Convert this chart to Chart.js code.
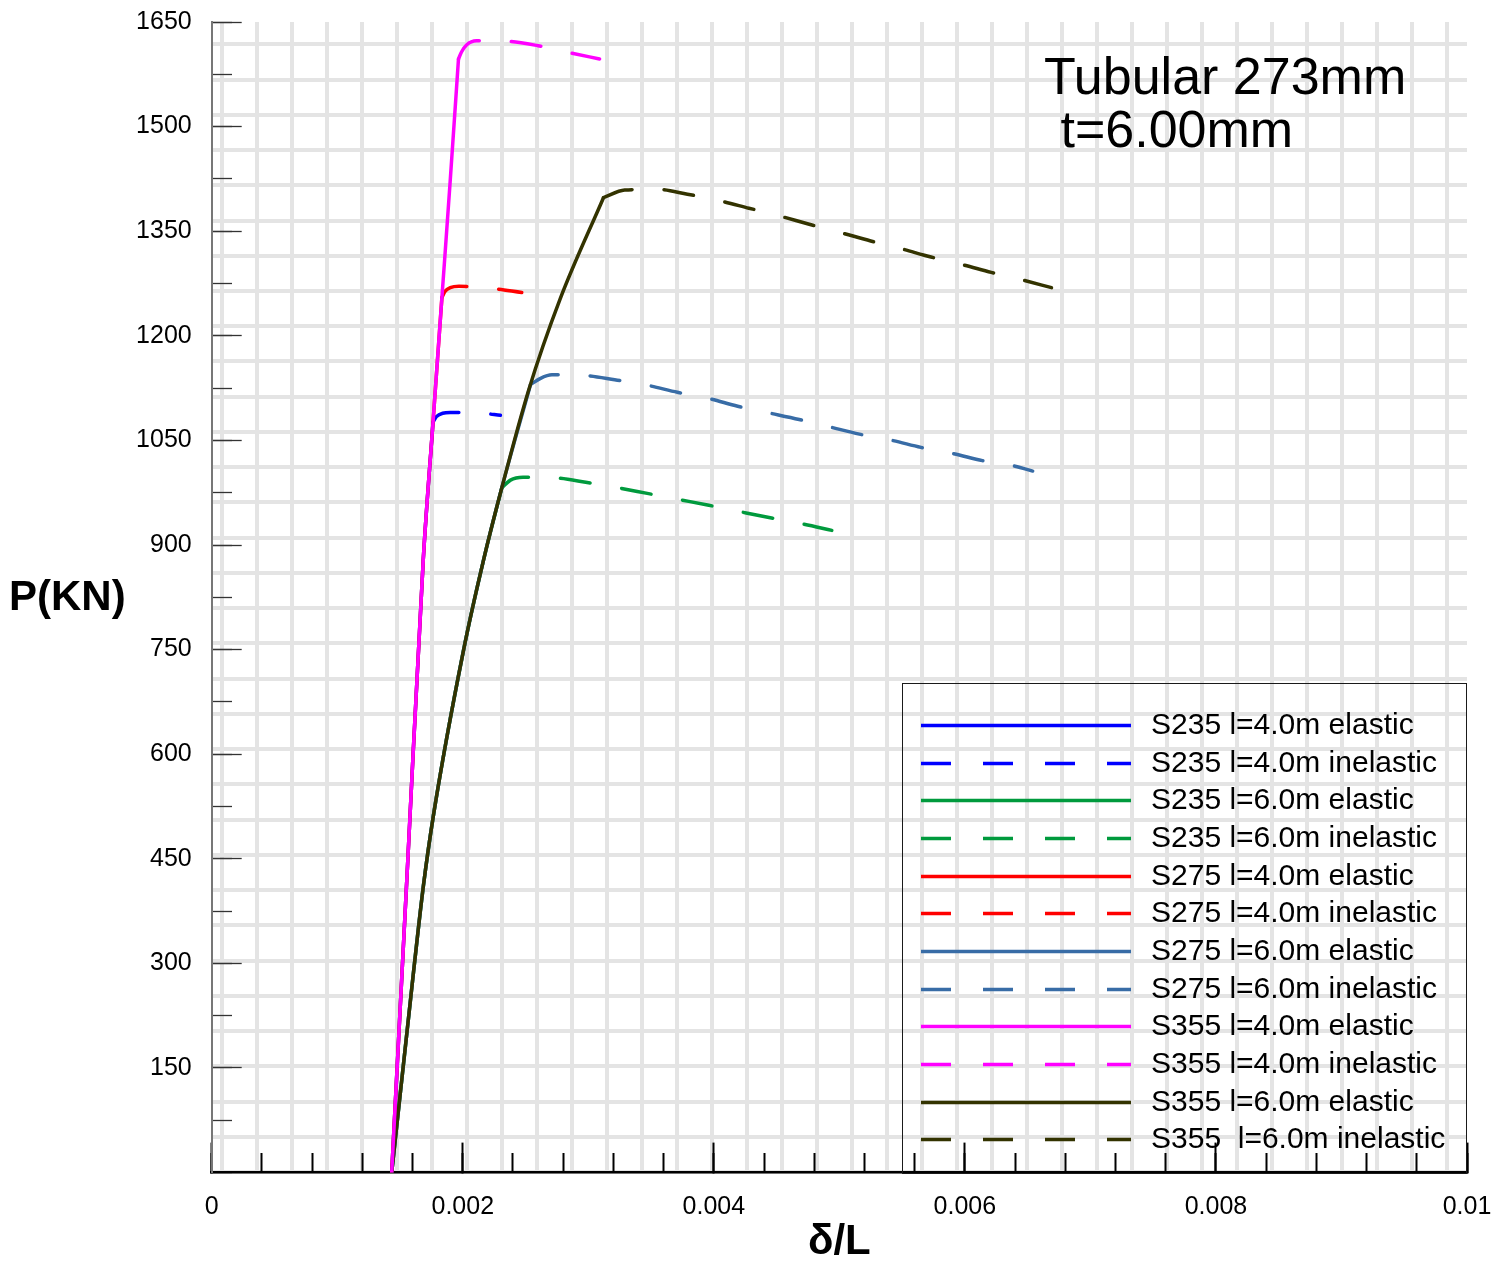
<!DOCTYPE html>
<html>
<head>
<meta charset="utf-8">
<title>Tubular 273mm t=6.00mm</title>
<script src="https://cdn.jsdelivr.net/npm/chart.js@4.4.1/dist/chart.umd.min.js"></script>
<style>
  html, body { margin: 0; padding: 0; background: #fff; }
  #wrap { width: 1510px; height: 1266px; }
</style>
</head>
<body>
<div id="wrap"><canvas id="chart" width="1510" height="1266"></canvas></div>
<script>
// P (kN) against δ/L, pairs of [strain, load]
const s235L4Elastic   = [[0.001434, 0], [0.00156, 440], [0.001685, 878], [0.001763, 1076]];
const s235L4Inelastic = [[0.001763, 1076], [0.00179, 1084], [0.00184, 1089], [0.0019, 1090], [0.00215, 1089], [0.0023, 1086]];
const s235L6Elastic   = [[0.001434, 0], [0.001608, 288], [0.001687, 412], [0.001767, 513], [0.002006, 749], [0.002165, 878], [0.002311, 982]];
const s235L6Inelastic = [[0.002311, 982], [0.00238, 993], [0.00248, 997], [0.00275, 996], [0.00298, 990], [0.00324, 982], [0.00347, 974], [0.00373, 965], [0.00396, 957], [0.00423, 947], [0.00445, 939], [0.00471, 930], [0.00494, 921]];
const s275L4Elastic   = [[0.001434, 0], [0.00156, 440], [0.001685, 878], [0.001763, 1076], [0.001834, 1255]];
const s275L4Inelastic = [[0.001834, 1255], [0.00186, 1264], [0.0019, 1269], [0.00197, 1271], [0.00223, 1268], [0.00247, 1262]];
const s275L6Elastic   = [[0.001434, 0], [0.001608, 288], [0.001687, 412], [0.001767, 513], [0.002006, 749], [0.002165, 878], [0.002311, 982], [0.00254, 1130]];
const s275L6Inelastic = [[0.00254, 1130], [0.00262, 1139], [0.00271, 1144], [0.00298, 1143], [0.00321, 1137], [0.00347, 1129], [0.00371, 1119], [0.00396, 1110], [0.00419, 1099], [0.00445, 1089], [0.00468, 1080], [0.00493, 1069], [0.00516, 1059], [0.00542, 1050], [0.00565, 1040], [0.00591, 1031], [0.00614, 1021], [0.0064, 1013], [0.00654, 1006]];
const s355L4Elastic   = [[0.001434, 0], [0.00156, 440], [0.001685, 878], [0.001763, 1076], [0.001834, 1255], [0.0019, 1422], [0.001966, 1597]];
const s355L4Inelastic = [[0.001966, 1597], [0.00199, 1607], [0.00203, 1617], [0.00211, 1623], [0.00238, 1622], [0.0026, 1616], [0.00285, 1606], [0.00309, 1597]];
const s355L6Elastic   = [[0.001434, 0], [0.001608, 288], [0.001687, 412], [0.001767, 513], [0.002006, 749], [0.002165, 878], [0.002311, 982], [0.002523, 1121], [0.002776, 1253], [0.003121, 1398]];
const s355L6Inelastic = [[0.003121, 1398], [0.00329, 1409], [0.00355, 1410], [0.00379, 1403], [0.00404, 1394], [0.00428, 1383], [0.00452, 1372], [0.00476, 1360], [0.00501, 1348], [0.00525, 1336], [0.00549, 1325], [0.00573, 1313], [0.00598, 1302], [0.00621, 1291], [0.00646, 1280], [0.00669, 1269]];

const seriesLabels = [
  'S235 l=4.0m elastic', 'S235 l=4.0m inelastic',
  'S235 l=6.0m elastic', 'S235 l=6.0m inelastic',
  'S275 l=4.0m elastic', 'S275 l=4.0m inelastic',
  'S275 l=6.0m elastic', 'S275 l=6.0m inelastic',
  'S355 l=4.0m elastic', 'S355 l=4.0m inelastic',
  'S355 l=6.0m elastic', 'S355  l=6.0m inelastic'
];
const seriesData = [
  s235L4Elastic, s235L4Inelastic, s235L6Elastic, s235L6Inelastic,
  s275L4Elastic, s275L4Inelastic, s275L6Elastic, s275L6Inelastic,
  s355L4Elastic, s355L4Inelastic, s355L6Elastic, s355L6Inelastic
];
const seriesColors = ['#0000ff', '#0000ff', '#009a3d', '#009a3d', '#ff0000', '#ff0000',
                      '#386ca6', '#386ca6', '#ff00ff', '#ff00ff', '#333300', '#333300'];

const xTicks = [0, 0.002, 0.004, 0.006, 0.008, 0.01];
const yTicks = [150, 300, 450, 600, 750, 900, 1050, 1200, 1350, 1500, 1650];

const FONT = '"Liberation Sans", Arial, Helvetica, sans-serif';
const DASH = [30, 32];
const LINE_W = 3.5;

Chart.defaults.font.family = FONT;
Chart.defaults.color = '#000';

const datasets = seriesData.map((pts, i) => ({
  label: seriesLabels[i],
  data: pts.map(p => ({ x: p[0], y: p[1] })),
  borderColor: seriesColors[i],
  backgroundColor: seriesColors[i],
  borderWidth: LINE_W,
  borderDash: i % 2 ? DASH : [],
  borderCapStyle: 'round',
  borderJoinStyle: 'round',
  showLine: true,
  pointRadius: 0,
  cubicInterpolationMode: 'monotone',
  // S355 on top, then S275, then S235
  order: 2 - Math.floor(i / 4)
}));

// tick padding would otherwise be added around the plot
const noOverhang = s => {
  s.paddingLeft = s.paddingRight = s.paddingTop = s.paddingBottom = 0;
};

// legend box, caption and vertical-axis title drawn over the plot
const overlay = {
  id: 'overlay',
  afterDraw(chart) {
    const ctx = chart.ctx;
    ctx.save();
    ctx.strokeStyle = '#1a1a1a';
    ctx.lineWidth = 1;
    ctx.strokeRect(902.5, 683.5, 564, 490);

    ctx.font = '30px ' + FONT;
    ctx.textBaseline = 'middle';
    chart.data.datasets.forEach((ds, i) => {
      const y = Math.round(725 + i * 37.65) + 0.5;
      ctx.strokeStyle = ds.borderColor;
      ctx.lineWidth = LINE_W;
      ctx.setLineDash(ds.borderDash);
      ctx.beginPath();
      ctx.moveTo(921, y);
      ctx.lineTo(1131, y);
      ctx.stroke();
      ctx.setLineDash([]);
      ctx.fillStyle = '#000';
      ctx.fillText(ds.label, 1151, y);
    });

    ctx.fillStyle = '#000';
    ctx.textBaseline = 'alphabetic';
    ctx.font = '52px ' + FONT;
    ctx.fillText('Tubular 273mm', 1044, 94);
    ctx.fillText(' t=6.00mm', 1046, 147);

    ctx.font = 'bold 42px ' + FONT;
    ctx.textBaseline = 'middle';
    ctx.fillText('P(KN)', 9, 598);
    ctx.restore();
  }
};

new Chart(document.getElementById('chart'), {
  type: 'scatter',
  data: { datasets },
  options: {
    responsive: false,
    animation: false,
    events: [],
    layout: { padding: { left: 0, top: 22, right: 43, bottom: 0 } },
    plugins: { legend: { display: false }, tooltip: { enabled: false } },
    scales: {
      x: {
        type: 'linear', position: 'bottom', min: 0, max: 0.01,
        afterBuildTicks: s => { s.ticks = xTicks.map(v => ({ value: v })); },
        afterFit: s => { s.height = 93.4; noOverhang(s); },
        ticks: {
          padding: 50, autoSkip: false, maxRotation: 0,
          font: { size: 25 }, color: '#000',
          callback: v => String(Number(v.toFixed(4)))
        },
        grid: { drawOnChartArea: false, tickLength: -30, tickColor: '#000', tickWidth: 2 },
        border: { color: '#000', width: 2.5 },
        title: {
          display: true, text: 'δ/L', color: '#000',
          font: { size: 42, weight: 'bold', lineHeight: 1.1 },
          padding: { top: 0, bottom: 0 }
        }
      },
      y: {
        type: 'linear', position: 'left', min: 0, max: 1650,
        afterBuildTicks: s => { s.ticks = yTicks.map(v => ({ value: v })); },
        afterFit: s => { s.width = 211.7; noOverhang(s); },
        ticks: {
          padding: 50, autoSkip: false, font: { size: 25 }, color: '#000',
          callback: v => String(v)
        },
        grid: { drawOnChartArea: false, tickLength: -30, tickColor: '#333', tickWidth: 1.3 },
        border: { color: '#777', width: 2 }
      },
      // short unlabelled ticks between the labelled ones
      xMinor: {
        type: 'linear', position: { y: 0 }, min: 0, max: 0.01,
        ticks: { display: false, stepSize: 0.0004 },
        grid: { drawOnChartArea: false, tickLength: -20, tickColor: '#000', tickWidth: 2 },
        border: { display: false }
      },
      yMinor: {
        type: 'linear', position: { x: 0 }, min: 0, max: 1650,
        ticks: { display: false, stepSize: 75 },
        grid: { drawOnChartArea: false, tickLength: -20, tickColor: '#333', tickWidth: 1.3 },
        border: { display: false }
      },
      // background mesh, 35 px cells, painted before any tick marks
      gridX: {
        type: 'linear', position: 'bottom', min: -0.2914, max: 35.58,
        afterFit: s => { s.height = 0; },
        ticks: { display: false, stepSize: 1, includeBounds: false },
        grid: { color: '#e4e4e4', lineWidth: 4, drawTicks: false, z: -2 },
        border: { display: false }
      },
      gridY: {
        type: 'linear', position: 'left', min: -1.017, max: 31.633,
        afterFit: s => { s.width = 0; },
        ticks: { display: false, stepSize: 1, includeBounds: false },
        grid: { color: '#e4e4e4', lineWidth: 4, drawTicks: false, z: -2 },
        border: { display: false }
      }
    }
  },
  plugins: [overlay]
});
</script>
</body>
</html>
